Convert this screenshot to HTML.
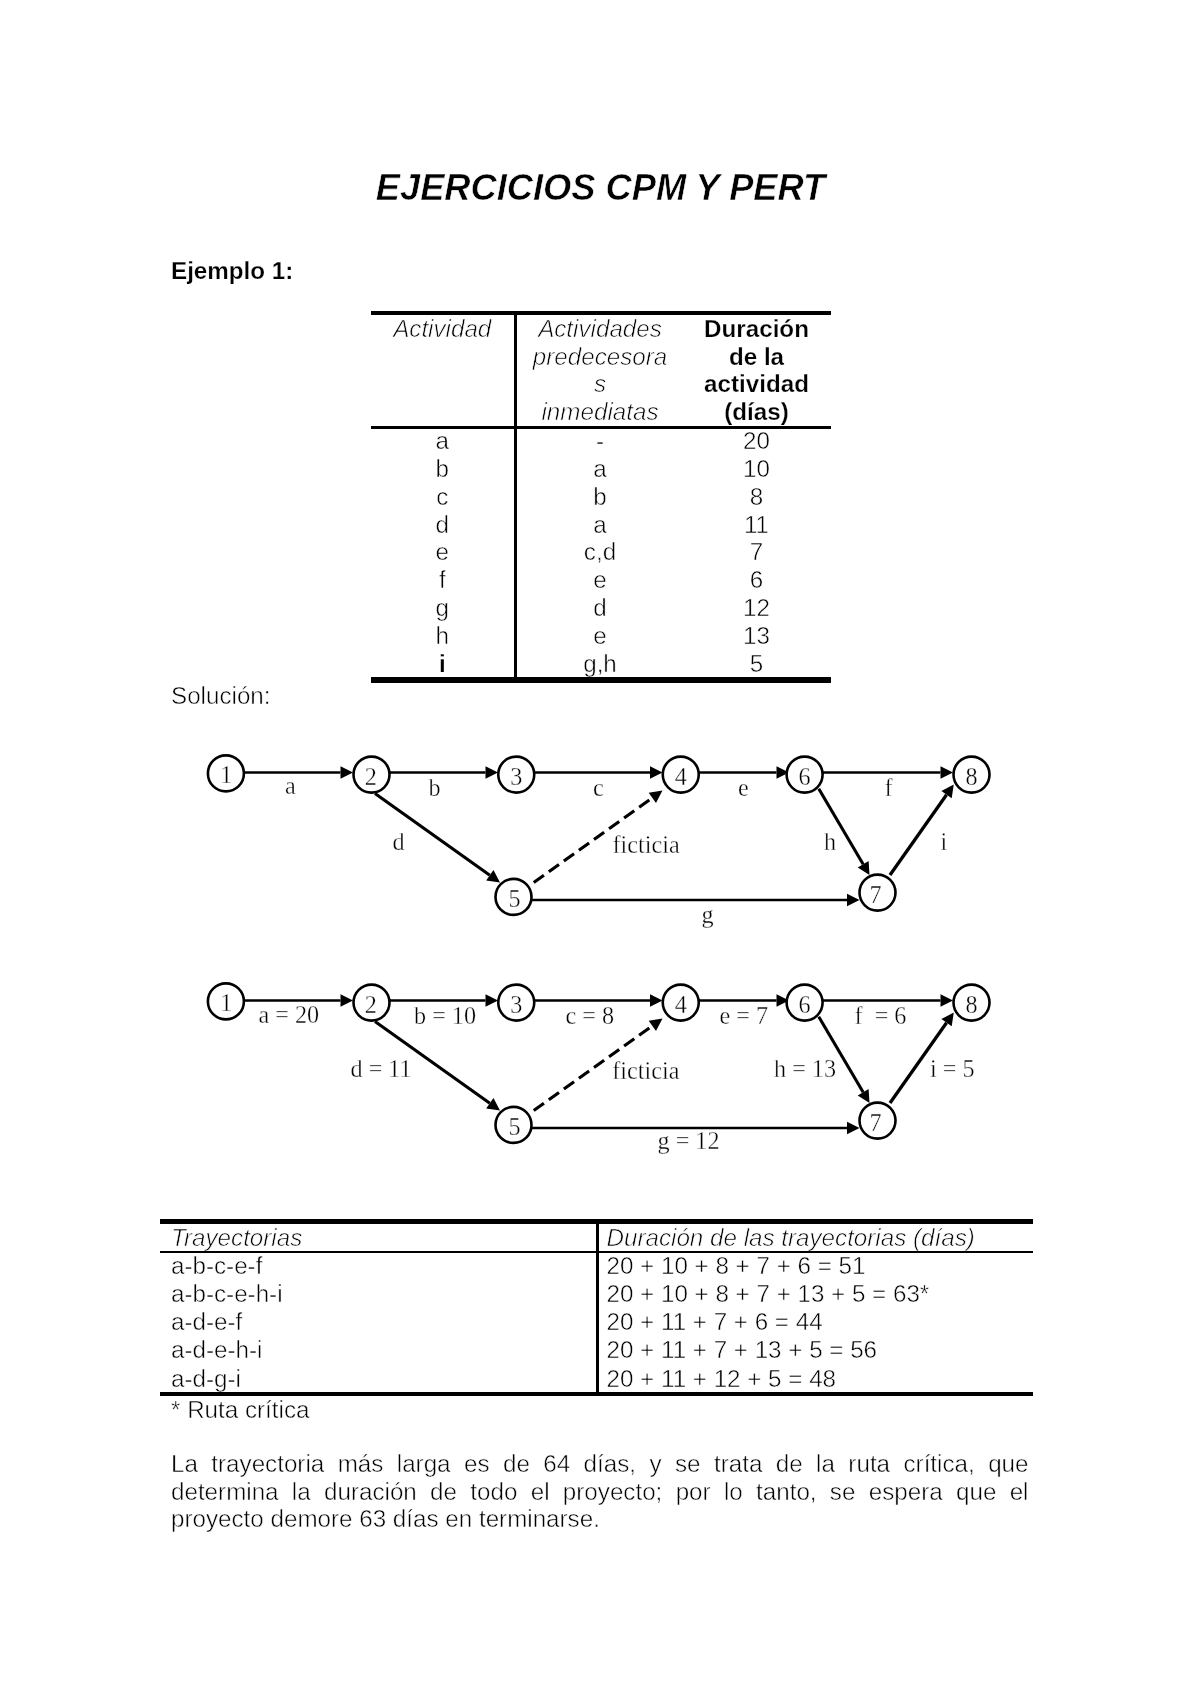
<!DOCTYPE html>
<html lang="es"><head><meta charset="utf-8"><title>Ejercicios CPM y PERT</title>
<style>
html,body{margin:0;padding:0;background:#fff;}
body{width:1200px;height:1698px;position:relative;overflow:hidden;-webkit-font-smoothing:antialiased;
 font-family:"Liberation Sans",sans-serif;font-size:24.19px;line-height:27.8px;color:#000;}
#pg{position:absolute;left:0;top:0;width:1200px;height:1698px;filter:grayscale(1);}
.t{position:absolute;white-space:nowrap;-webkit-text-stroke:0.5px #fff;}
.b{-webkit-text-stroke:0.25px #fff;}
.bi{-webkit-text-stroke:0.55px #fff;}
.b{font-weight:bold;}
.i{font-style:italic;-webkit-text-stroke:0.65px #fff;}
.bi{font-weight:bold;font-style:italic;}
.j{white-space:normal;text-align:justify;text-align-last:justify;}
.r{position:absolute;background:#000;z-index:2;}
.dg{position:absolute;left:0;top:0;}
.dg text{font-family:"Liberation Serif",serif;font-size:24.19px;fill:#000;font-variant-ligatures:none;stroke:#fff;stroke-width:0.35px;}
</style></head>
<body>
<div id="pg">
<div class="t bi" style="left:0.00px;top:167.43px;width:1201.00px;text-align:center;font-size:36.28px;line-height:42px;">EJERCICIOS CPM Y PERT</div>
<div class="t b" style="left:171.00px;top:256.72px;">Ejemplo 1:</div>
<div class="r" style="left:370.50px;top:311.00px;width:460.50px;height:4.00px"></div>
<div class="r" style="left:370.50px;top:425.50px;width:460.50px;height:3.00px"></div>
<div class="r" style="left:370.50px;top:677.00px;width:460.50px;height:5.50px"></div>
<div class="r" style="left:514.00px;top:313.00px;width:3.00px;height:366.00px"></div>
<div class="t i" style="left:370.50px;top:314.72px;width:143.50px;text-align:center;">Actividad</div>
<div class="t i" style="left:518.00px;top:314.72px;width:164.00px;text-align:center;">Actividades</div>
<div class="t i" style="left:518.00px;top:342.62px;width:164.00px;text-align:center;">predecesora</div>
<div class="t i" style="left:518.00px;top:370.42px;width:164.00px;text-align:center;">s</div>
<div class="t i" style="left:518.00px;top:398.32px;width:164.00px;text-align:center;">inmediatas</div>
<div class="t b" style="left:682.00px;top:314.72px;width:149.00px;text-align:center;">Duración</div>
<div class="t b" style="left:682.00px;top:342.62px;width:149.00px;text-align:center;">de la</div>
<div class="t b" style="left:682.00px;top:370.42px;width:149.00px;text-align:center;">actividad</div>
<div class="t b" style="left:682.00px;top:398.32px;width:149.00px;text-align:center;">(días)</div>
<div class="t" style="left:370.50px;top:427.22px;width:143.50px;text-align:center;">a</div>
<div class="t" style="left:518.00px;top:427.22px;width:164.00px;text-align:center;">-</div>
<div class="t" style="left:682.00px;top:427.22px;width:149.00px;text-align:center;">20</div>
<div class="t" style="left:370.50px;top:455.02px;width:143.50px;text-align:center;">b</div>
<div class="t" style="left:518.00px;top:455.02px;width:164.00px;text-align:center;">a</div>
<div class="t" style="left:682.00px;top:455.02px;width:149.00px;text-align:center;">10</div>
<div class="t" style="left:370.50px;top:482.82px;width:143.50px;text-align:center;">c</div>
<div class="t" style="left:518.00px;top:482.82px;width:164.00px;text-align:center;">b</div>
<div class="t" style="left:682.00px;top:482.82px;width:149.00px;text-align:center;">8</div>
<div class="t" style="left:370.50px;top:510.62px;width:143.50px;text-align:center;">d</div>
<div class="t" style="left:518.00px;top:510.62px;width:164.00px;text-align:center;">a</div>
<div class="t" style="left:682.00px;top:510.62px;width:149.00px;text-align:center;">11</div>
<div class="t" style="left:370.50px;top:538.42px;width:143.50px;text-align:center;">e</div>
<div class="t" style="left:518.00px;top:538.42px;width:164.00px;text-align:center;">c,d</div>
<div class="t" style="left:682.00px;top:538.42px;width:149.00px;text-align:center;">7</div>
<div class="t" style="left:370.50px;top:566.22px;width:143.50px;text-align:center;">f</div>
<div class="t" style="left:518.00px;top:566.22px;width:164.00px;text-align:center;">e</div>
<div class="t" style="left:682.00px;top:566.22px;width:149.00px;text-align:center;">6</div>
<div class="t" style="left:370.50px;top:594.02px;width:143.50px;text-align:center;">g</div>
<div class="t" style="left:518.00px;top:594.02px;width:164.00px;text-align:center;">d</div>
<div class="t" style="left:682.00px;top:594.02px;width:149.00px;text-align:center;">12</div>
<div class="t" style="left:370.50px;top:621.82px;width:143.50px;text-align:center;">h</div>
<div class="t" style="left:518.00px;top:621.82px;width:164.00px;text-align:center;">e</div>
<div class="t" style="left:682.00px;top:621.82px;width:149.00px;text-align:center;">13</div>
<div class="t b" style="left:370.50px;top:649.62px;width:143.50px;text-align:center;">i</div>
<div class="t" style="left:518.00px;top:649.62px;width:164.00px;text-align:center;">g,h</div>
<div class="t" style="left:682.00px;top:649.62px;width:149.00px;text-align:center;">5</div>
<div class="t" style="left:171.00px;top:681.97px;">Solución:</div>
<svg class="dg" width="1200" height="1698" viewBox="0 0 1200 1698">
<line x1="245.00" y1="772.50" x2="340.50" y2="772.50" stroke="#000" stroke-width="2.6"/>
<polygon points="353.00,772.50 340.50,778.80 340.50,766.20" fill="#000"/>
<line x1="390.00" y1="772.50" x2="485.50" y2="772.50" stroke="#000" stroke-width="2.6"/>
<polygon points="498.00,772.50 485.50,778.80 485.50,766.20" fill="#000"/>
<line x1="535.00" y1="772.50" x2="650.00" y2="772.50" stroke="#000" stroke-width="2.6"/>
<polygon points="662.50,772.50 650.00,778.80 650.00,766.20" fill="#000"/>
<line x1="699.00" y1="772.50" x2="776.50" y2="772.50" stroke="#000" stroke-width="2.6"/>
<polygon points="789.00,772.50 776.50,778.80 776.50,766.20" fill="#000"/>
<line x1="823.00" y1="772.50" x2="940.50" y2="772.50" stroke="#000" stroke-width="2.6"/>
<polygon points="953.00,772.50 940.50,778.80 940.50,766.20" fill="#000"/>
<line x1="532.00" y1="900.00" x2="847.00" y2="900.00" stroke="#000" stroke-width="2.6"/>
<polygon points="859.50,900.00 847.00,906.30 847.00,893.70" fill="#000"/>
<line x1="375.00" y1="793.50" x2="489.82" y2="875.25" stroke="#000" stroke-width="3.1"/>
<polygon points="500.00,882.50 486.16,880.38 493.47,870.12" fill="#000"/>
<line x1="533.75" y1="882.50" x2="652.33" y2="797.86" stroke="#000" stroke-width="3.2" stroke-dasharray="12.5 6"/>
<polygon points="662.50,790.60 655.99,802.99 648.67,792.73" fill="#000"/>
<line x1="818.75" y1="788.75" x2="863.16" y2="864.23" stroke="#000" stroke-width="3.1"/>
<polygon points="869.50,875.00 857.73,867.42 868.59,861.03" fill="#000"/>
<line x1="890.00" y1="875.00" x2="946.55" y2="794.72" stroke="#000" stroke-width="3.3"/>
<polygon points="953.75,784.50 951.70,798.35 941.40,791.09" fill="#000"/>
<circle cx="225.90" cy="773.40" r="18" fill="#fff" stroke="#000" stroke-width="2.6"/>
<text x="226.40" y="783.40" text-anchor="middle">1</text>
<circle cx="371.50" cy="774.60" r="18" fill="#fff" stroke="#000" stroke-width="2.6"/>
<text x="370.70" y="784.60" text-anchor="middle">2</text>
<circle cx="516.25" cy="774.60" r="18" fill="#fff" stroke="#000" stroke-width="2.6"/>
<text x="516.25" y="784.60" text-anchor="middle">3</text>
<circle cx="680.75" cy="774.60" r="18" fill="#fff" stroke="#000" stroke-width="2.6"/>
<text x="680.75" y="784.60" text-anchor="middle">4</text>
<circle cx="804.60" cy="774.60" r="18" fill="#fff" stroke="#000" stroke-width="2.6"/>
<text x="804.60" y="784.60" text-anchor="middle">6</text>
<circle cx="971.50" cy="774.60" r="18" fill="#fff" stroke="#000" stroke-width="2.6"/>
<text x="971.50" y="784.60" text-anchor="middle">8</text>
<circle cx="513.50" cy="896.90" r="18" fill="#fff" stroke="#000" stroke-width="2.6"/>
<text x="514.50" y="906.90" text-anchor="middle">5</text>
<circle cx="877.50" cy="892.60" r="18" fill="#fff" stroke="#000" stroke-width="2.6"/>
<text x="875.50" y="902.60" text-anchor="middle">7</text>
<text x="285.00" y="794.25">a</text>
<text x="428.50" y="795.50">b</text>
<text x="392.50" y="849.75">d</text>
<text x="593.00" y="795.50">c</text>
<text x="612.50" y="853.00">ficticia</text>
<text x="701.50" y="922.50">g</text>
<text x="738.00" y="796.00">e</text>
<text x="884.50" y="796.00">f</text>
<text x="824.00" y="849.75">h</text>
<text x="940.50" y="849.75">i</text>
<line x1="245.00" y1="1000.50" x2="340.50" y2="1000.50" stroke="#000" stroke-width="2.6"/>
<polygon points="353.00,1000.50 340.50,1006.80 340.50,994.20" fill="#000"/>
<line x1="390.00" y1="1000.50" x2="485.50" y2="1000.50" stroke="#000" stroke-width="2.6"/>
<polygon points="498.00,1000.50 485.50,1006.80 485.50,994.20" fill="#000"/>
<line x1="535.00" y1="1000.50" x2="650.00" y2="1000.50" stroke="#000" stroke-width="2.6"/>
<polygon points="662.50,1000.50 650.00,1006.80 650.00,994.20" fill="#000"/>
<line x1="699.00" y1="1000.50" x2="776.50" y2="1000.50" stroke="#000" stroke-width="2.6"/>
<polygon points="789.00,1000.50 776.50,1006.80 776.50,994.20" fill="#000"/>
<line x1="823.00" y1="1000.50" x2="940.50" y2="1000.50" stroke="#000" stroke-width="2.6"/>
<polygon points="953.00,1000.50 940.50,1006.80 940.50,994.20" fill="#000"/>
<line x1="532.00" y1="1128.00" x2="847.00" y2="1128.00" stroke="#000" stroke-width="2.6"/>
<polygon points="859.50,1128.00 847.00,1134.30 847.00,1121.70" fill="#000"/>
<line x1="375.00" y1="1021.50" x2="489.82" y2="1103.25" stroke="#000" stroke-width="3.1"/>
<polygon points="500.00,1110.50 486.16,1108.38 493.47,1098.12" fill="#000"/>
<line x1="533.75" y1="1110.50" x2="652.33" y2="1025.86" stroke="#000" stroke-width="3.2" stroke-dasharray="12.5 6"/>
<polygon points="662.50,1018.60 655.99,1030.99 648.67,1020.73" fill="#000"/>
<line x1="818.75" y1="1016.75" x2="863.16" y2="1092.23" stroke="#000" stroke-width="3.1"/>
<polygon points="869.50,1103.00 857.73,1095.42 868.59,1089.03" fill="#000"/>
<line x1="890.00" y1="1103.00" x2="946.55" y2="1022.72" stroke="#000" stroke-width="3.3"/>
<polygon points="953.75,1012.50 951.70,1026.35 941.40,1019.09" fill="#000"/>
<circle cx="225.90" cy="1001.40" r="18" fill="#fff" stroke="#000" stroke-width="2.6"/>
<text x="226.40" y="1011.40" text-anchor="middle">1</text>
<circle cx="371.50" cy="1002.60" r="18" fill="#fff" stroke="#000" stroke-width="2.6"/>
<text x="370.70" y="1012.60" text-anchor="middle">2</text>
<circle cx="516.25" cy="1002.60" r="18" fill="#fff" stroke="#000" stroke-width="2.6"/>
<text x="516.25" y="1012.60" text-anchor="middle">3</text>
<circle cx="680.75" cy="1002.60" r="18" fill="#fff" stroke="#000" stroke-width="2.6"/>
<text x="680.75" y="1012.60" text-anchor="middle">4</text>
<circle cx="804.60" cy="1002.60" r="18" fill="#fff" stroke="#000" stroke-width="2.6"/>
<text x="804.60" y="1012.60" text-anchor="middle">6</text>
<circle cx="971.50" cy="1002.60" r="18" fill="#fff" stroke="#000" stroke-width="2.6"/>
<text x="971.50" y="1012.60" text-anchor="middle">8</text>
<circle cx="513.50" cy="1124.90" r="18" fill="#fff" stroke="#000" stroke-width="2.6"/>
<text x="514.50" y="1134.90" text-anchor="middle">5</text>
<circle cx="877.50" cy="1120.60" r="18" fill="#fff" stroke="#000" stroke-width="2.6"/>
<text x="875.50" y="1130.60" text-anchor="middle">7</text>
<text x="258.50" y="1023.00">a = 20</text>
<text x="414.00" y="1024.00">b = 10</text>
<text x="350.50" y="1076.75">d = 11</text>
<text x="565.50" y="1024.25">c = 8</text>
<text x="612.30" y="1079.25">ficticia</text>
<text x="657.50" y="1148.50">g = 12</text>
<text x="719.50" y="1024.25">e = 7</text>
<text x="854.50" y="1024.25">f&#160; = 6</text>
<text x="774.00" y="1076.75">h = 13</text>
<text x="930.00" y="1076.75">i = 5</text>
</svg>
<div class="r" style="left:160.00px;top:1218.70px;width:873.00px;height:5.30px"></div>
<div class="r" style="left:160.00px;top:1250.50px;width:873.00px;height:2.80px"></div>
<div class="r" style="left:160.00px;top:1391.50px;width:873.00px;height:4.40px"></div>
<div class="r" style="left:596.00px;top:1221.00px;width:2.80px;height:172.00px"></div>
<div class="t i" style="left:171.00px;top:1224.12px;">Trayectorias</div>
<div class="t i" style="left:606.50px;top:1224.12px;">Duración de las trayectorias (días)</div>
<div class="t" style="left:171.00px;top:1252.32px;">a-b-c-e-f</div>
<div class="t" style="left:606.50px;top:1252.32px;">20 + 10 + 8 + 7 + 6 = 51</div>
<div class="t" style="left:171.00px;top:1279.92px;">a-b-c-e-h-i</div>
<div class="t" style="left:606.50px;top:1279.92px;">20 + 10 + 8 + 7 + 13 + 5 = 63*</div>
<div class="t" style="left:171.00px;top:1307.62px;">a-d-e-f</div>
<div class="t" style="left:606.50px;top:1307.62px;">20 + 11 + 7 + 6 = 44</div>
<div class="t" style="left:171.00px;top:1335.62px;">a-d-e-h-i</div>
<div class="t" style="left:606.50px;top:1335.62px;">20 + 11 + 7 + 13 + 5 = 56</div>
<div class="t" style="left:171.00px;top:1364.52px;">a-d-g-i</div>
<div class="t" style="left:606.50px;top:1364.52px;">20 + 11 + 12 + 5 = 48</div>
<div class="t" style="left:171.00px;top:1395.72px;">* Ruta crítica</div>
<div class="t j" style="left:171.00px;top:1450.22px;width:857.50px;">La trayectoria más larga es de 64 días, y se trata de la ruta crítica, que</div>
<div class="t j" style="left:171.00px;top:1477.62px;width:857.50px;">determina la duración de todo el proyecto; por lo tanto, se espera que el</div>
<div class="t" style="left:171.00px;top:1505.02px;">proyecto demore 63 días en terminarse.</div>
</div>
</body></html>
